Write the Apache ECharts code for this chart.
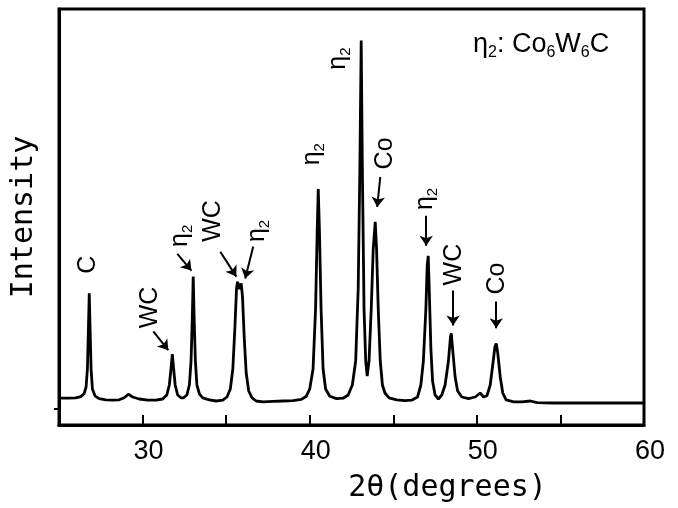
<!DOCTYPE html>
<html>
<head>
<meta charset="utf-8">
<script src="https://cdn.jsdelivr.net/npm/echarts@6/dist/echarts.min.js"></script>
<style>html,body{margin:0;padding:0;background:#fff;}#c{width:678px;height:508px;}</style>
</head>
<body>
<div id="c"></div>
<script>
// ---- data ----
const twoTheta = [25.0,25.6,26.0,26.3,26.5,26.62,26.7,26.76,26.81,26.86,26.92,27.0,27.15,27.4,27.8,28.2,28.6,28.9,29.15,29.4,29.8,30.3,30.8,31.2,31.45,31.6,31.7,31.78,31.86,31.95,32.1,32.3,32.45,32.65,32.8,32.9,32.97,33.03,33.09,33.16,33.25,33.4,33.6,34.0,34.4,34.8,35.05,35.25,35.4,35.52,35.62,35.68,35.8,35.9,35.98,36.08,36.2,36.35,36.55,36.8,37.2,37.8,38.4,39.0,39.5,39.8,40.0,40.2,40.35,40.45,40.51,40.58,40.68,40.8,40.95,41.2,41.6,42.0,42.3,42.55,42.75,42.9,43.0,43.08,43.15,43.25,43.35,43.44,43.55,43.68,43.8,43.92,44.0,44.1,44.22,44.35,44.5,44.75,45.2,45.7,46.1,46.45,46.65,46.8,46.95,47.03,47.09,47.15,47.25,47.35,47.5,47.7,47.9,48.1,48.3,48.42,48.47,48.55,48.7,48.85,49.1,49.5,49.9,50.2,50.4,50.6,50.8,50.95,51.08,51.16,51.25,51.4,51.55,51.75,52.2,52.7,53.2,53.6,54.5,56,58,60];
const intensity = [2.7,2.7,2.8,3.1,3.8,5.5,10,20,28.9,20,10,5,3.3,2.6,2.3,2.2,2.3,2.8,3.7,3.0,2.5,2.2,2.2,2.5,3.5,6,10,13.7,10,6,3.5,2.8,2.8,3.5,6,12,22,33.1,22,12,6,3.8,2.8,2.3,2.0,2.2,3.0,5,10,20,30,31.8,30.0,31.4,28,18,9,4.5,2.8,2.0,1.8,1.9,2.0,2.1,2.4,3.2,5,10,25,45,55,45,25,10,5,3.2,2.6,2.7,3.5,6,12,30,60,92.1,60,25,12,8.2,12,25,40,46.8,40,25,12,6,4,2.8,2.3,2.1,2.2,3.0,6,12,25,36,38.3,30,15,7,3.5,2.5,3.5,6,12,18,18.9,15,8,4.5,3.0,2.6,3.0,4.0,3.0,3.3,6,11,15.5,16.4,14,8,4,2.3,1.8,1.8,2.0,1.6,1.5,1.5,1.5,1.5];
const xLabelValues = [30, 40, 50, 60];
// peak annotations (rotated labels): text, 2θ position, intensity position
const annotText = ['C', 'WC', 'η2', 'WC', 'η2', 'η2', 'η2', 'Co', 'η2', 'WC', 'Co'];
const annotX = [26.75, 30.46, 32.26, 34.23, 36.86, 40.15, 41.71, 44.52, 46.91, 48.62, 51.22];
const annotY = [36.1, 25.4, 43.3, 47.0, 44.5, 63.7, 87.6, 63.9, 52.5, 36.1, 32.6];
// arrows: [x1, y1, x2, y2] in data units
const arrows = [
  [30.64, 19.4, 31.54, 14.7],
  [32.08, 38.8, 32.92, 34.6],
  [34.65, 39.3, 35.61, 33.1],
  [36.62, 40.6, 36.14, 32.6],
  [44.22, 58.0, 44.04, 50.5],
  [46.97, 48.3, 46.97, 40.8],
  [48.58, 29.6, 48.58, 20.9],
  [51.16, 26.9, 51.16, 20.2]
];
const phaseNote = '{a|η}{s|2}{a|: Co}{s|6}{a|W}{s|6}{a|C}';

const chart = echarts.init(document.getElementById('c'), null, {renderer: 'canvas'});
const seriesData = twoTheta.map((x, i) => [x, intensity[i]]);
const mono = 'DejaVu Sans Mono';
const sans = 'Liberation Sans';

chart.setOption({
  animation: false,
  backgroundColor: '#fff',
  grid: {left: 59, right: 34, top: 9, bottom: 81, show: true, borderColor: '#000', borderWidth: 3, backgroundColor: 'transparent'},
  xAxis: {
    type: 'value', min: 25, max: 60, interval: 5,
    name: '2θ(degrees)', nameLocation: 'middle', nameGap: 48,
    nameTextStyle: {fontFamily: mono, fontSize: 30, color: '#000', padding: [0, 0, 0, 192]},
    axisLine: {show: true, onZero: false, lineStyle: {color: '#000', width: 3}},
    axisTick: {show: true, inside: true, length: 10, lineStyle: {color: '#000', width: 2}},
    axisLabel: {
      show: true, margin: 13, fontFamily: sans, fontSize: 27, color: '#000', padding: [0, 0, 0, 12],
      showMinLabel: true, showMaxLabel: true,
      formatter: v => (xLabelValues.indexOf(v) >= 0 ? String(v) : '')
    },
    splitLine: {show: false}
  },
  yAxis: {
    type: 'value', min: -4, max: 100,
    name: 'Intensity', nameLocation: 'middle', nameGap: 20,
    nameTextStyle: {fontFamily: mono, fontSize: 30, color: '#000'},
    axisLine: {show: true, lineStyle: {color: '#000', width: 3}},
    axisTick: {show: true, inside: false, length: 5, customValues: [0], lineStyle: {color: '#000', width: 2}},
    axisLabel: {show: false},
    splitLine: {show: false}
  },
  series: [{
    type: 'line',
    data: seriesData,
    showSymbol: false,
    smooth: false,
    lineStyle: {color: '#000', width: 2.8},
    markLine: {
      silent: true,
      symbol: ['none', 'arrow'],
      symbolSize: 10,
      label: {show: false},
      lineStyle: {color: '#000', width: 2, type: 'solid'},
      data: arrows.map(a => [{coord: [a[0], a[1]]}, {coord: [a[2], a[3]]}])
    }
  }]
});

const labelRich = {
  a: {fontFamily: sans, fontSize: 25, color: '#000', lineHeight: 30},
  s: {fontFamily: sans, fontSize: 15, color: '#000', verticalAlign: 'bottom', lineHeight: 14}
};
const noteRich = {
  a: {fontFamily: sans, fontSize: 27, color: '#000', lineHeight: 32},
  s: {fontFamily: sans, fontSize: 16, color: '#000', verticalAlign: 'bottom', lineHeight: 15}
};
function toRich(t) {
  return t.replace(/^(η)(2)$/, '{a|$1}{s|$2}').replace(/^([A-Za-z]+)$/, '{a|$1}');
}
const graphics = annotText.map((t, i) => {
  const p = chart.convertToPixel({gridIndex: 0}, [annotX[i], annotY[i]]);
  return {
    type: 'text', x: p[0], y: p[1], rotation: Math.PI / 2, silent: true,
    style: {text: toRich(t), rich: labelRich, align: 'center', verticalAlign: 'middle'}
  };
});
graphics.push({
  type: 'text', left: 473, top: 31, silent: true,
  style: {text: phaseNote, rich: noteRich}
});
chart.setOption({graphic: graphics});
</script>
</body>
</html>
